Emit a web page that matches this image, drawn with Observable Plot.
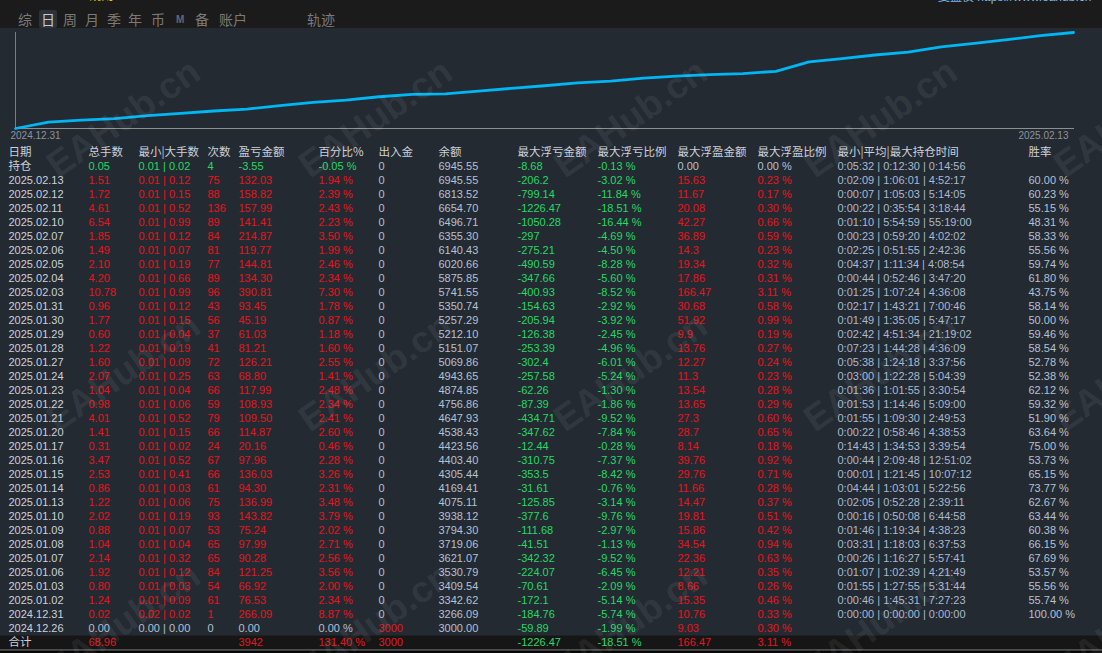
<!DOCTYPE html>
<html><head><meta charset="utf-8">
<script src="https://cdn.jsdelivr.net/npm/d3@7"></script>
<script src="https://cdn.jsdelivr.net/npm/@observablehq/plot@0.6"></script>
<style>
html,body{margin:0;padding:0;background:#242a32;width:1102px;height:653px;overflow:hidden;font-family:"Liberation Sans","Noto Sans CJK SC",sans-serif;}
#topbar{position:absolute;left:0;top:0;width:1102px;height:28px;background:#1b1b1b;overflow:hidden;}
.tab{position:absolute;top:10px;font-size:14px;line-height:18px;color:#7a7a7a;font-family:"Noto Sans CJK SC",sans-serif;}
.tab.sel{color:#c3cad4;background:#2b323b;border-radius:2px;padding:0 2px;margin-left:-2px;}
.tab.m{font-size:10px;font-weight:bold;color:#5f6a78;font-family:"Liberation Sans",sans-serif;top:11px;}
#ytext{position:absolute;left:8px;top:-11px;font-size:12px;line-height:14px;color:#e3cf00;white-space:nowrap;}
#rtext{position:absolute;left:938px;top:-10px;font-size:12px;line-height:14px;color:#7fb6e6;white-space:nowrap;}
#chart{position:absolute;left:0;top:28px;}
#table{position:absolute;left:0;top:143px;}
#bottom{position:absolute;left:0;top:650px;width:1102px;height:3px;background:#050505;}
#wm{position:absolute;left:0;top:0;pointer-events:none;}
svg{display:block;}
</style></head><body>
<div id="topbar"><span id="ytext">www.eahub.cn 规则</span><span id="rtext">复盘仪 https://www.eahub.cn</span></div>
<div id="bottom"></div>
<div id="chart"></div>
<div id="table"></div>
<div id="wm"></div>
<script>
// ---------- data ----------
const dates = ["2025.02.13","2025.02.12","2025.02.11","2025.02.10","2025.02.07","2025.02.06","2025.02.05","2025.02.04","2025.02.03","2025.01.31","2025.01.30","2025.01.29","2025.01.28","2025.01.27","2025.01.24","2025.01.23","2025.01.22","2025.01.21","2025.01.20","2025.01.17","2025.01.16","2025.01.15","2025.01.14","2025.01.13","2025.01.10","2025.01.09","2025.01.08","2025.01.07","2025.01.06","2025.01.03","2025.01.02","2024.12.31","2024.12.26"];
const lots = [1.51,1.72,4.61,6.54,1.85,1.49,2.10,4.20,10.78,0.96,1.77,0.60,1.22,1.60,2.07,1.04,0.98,4.01,1.41,0.31,3.47,2.53,0.86,1.22,2.02,0.88,1.04,2.14,1.92,0.80,1.24,0.02,0.00];
const lotMin = [0.01,0.01,0.01,0.01,0.01,0.01,0.01,0.01,0.01,0.01,0.01,0.01,0.01,0.01,0.01,0.01,0.01,0.01,0.01,0.01,0.01,0.01,0.01,0.01,0.01,0.01,0.01,0.01,0.01,0.01,0.01,0.02,0.00];
const lotMax = [0.12,0.15,0.52,0.99,0.12,0.07,0.19,0.66,0.99,0.12,0.15,0.04,0.19,0.09,0.25,0.04,0.06,0.52,0.15,0.02,0.52,0.41,0.03,0.06,0.19,0.07,0.04,0.32,0.12,0.03,0.09,0.02,0.00];
const trades = [75,88,136,89,84,81,77,89,96,43,56,37,41,72,63,66,59,79,66,24,67,66,61,75,93,53,65,65,84,54,61,1,0];
const pnl = [132.03,158.82,157.99,141.41,214.87,119.77,144.81,134.30,390.81,93.45,45.19,61.03,81.21,126.21,68.80,117.99,108.93,109.50,114.87,20.16,97.96,136.03,94.30,136.99,143.82,75.24,97.99,90.28,121.25,66.92,76.53,266.09,0.00];
const pnlPct = [1.94,2.39,2.43,2.23,3.50,1.99,2.46,2.34,7.30,1.78,0.87,1.18,1.60,2.55,1.41,2.48,2.34,2.41,2.60,0.46,2.28,3.26,2.31,3.48,3.79,2.02,2.71,2.56,3.56,2.00,2.34,8.87,0.00];
const flows = [0,0,0,0,0,0,0,0,0,0,0,0,0,0,0,0,0,0,0,0,0,0,0,0,0,0,0,0,0,0,0,0,3000];
const balance = [6945.55,6813.52,6654.70,6496.71,6355.30,6140.43,6020.66,5875.85,5741.55,5350.74,5257.29,5212.10,5151.07,5069.86,4943.65,4874.85,4756.86,4647.93,4538.43,4423.56,4403.40,4305.44,4169.41,4075.11,3938.12,3794.30,3719.06,3621.07,3530.79,3409.54,3342.62,3266.09,3000.00];
const ddAmt = [-206.2,-799.14,-1226.47,-1050.28,-297,-275.21,-490.59,-347.66,-400.93,-154.63,-205.94,-126.38,-253.39,-302.4,-257.58,-62.26,-87.39,-434.71,-347.62,-12.44,-310.75,-353.5,-31.61,-125.85,-377.6,-111.68,-41.51,-342.32,-224.07,-70.61,-172.1,-184.76,-59.89];
const ddPct = [-3.02,-11.84,-18.51,-16.44,-4.69,-4.50,-8.28,-5.60,-8.52,-2.92,-3.92,-2.45,-4.96,-6.01,-5.24,-1.30,-1.86,-9.52,-7.84,-0.28,-7.37,-8.42,-0.76,-3.14,-9.76,-2.97,-1.13,-9.52,-6.45,-2.09,-5.14,-5.74,-1.99];
const fpAmt = [15.63,11.67,20.08,42.27,36.89,14.3,19.34,17.86,166.47,30.68,51.92,9.9,13.76,12.27,11.3,13.54,13.65,27.3,28.7,8.14,39.76,29.76,11.66,14.47,19.81,15.86,34.54,22.36,12.21,8.66,15.35,10.76,9.03];
const fpPct = [0.23,0.17,0.30,0.66,0.59,0.23,0.32,0.31,3.11,0.58,0.99,0.19,0.27,0.24,0.23,0.28,0.29,0.60,0.65,0.18,0.92,0.71,0.28,0.37,0.51,0.42,0.94,0.63,0.35,0.26,0.46,0.33,0.30];
const holdMin = ["0:02:09","0:00:07","0:00:22","0:01:10","0:00:23","0:02:25","0:04:37","0:00:44","0:01:25","0:02:17","0:01:49","0:02:42","0:07:23","0:05:38","0:03:00","0:01:36","0:01:53","0:01:55","0:00:22","0:14:43","0:00:44","0:00:01","0:04:44","0:02:05","0:00:16","0:01:46","0:03:31","0:00:26","0:01:07","0:01:55","0:00:46","0:00:00",""];
const holdAvg = ["1:06:01","1:05:03","0:35:54","5:54:59","0:59:20","0:51:55","1:11:34","0:52:46","1:07:24","1:43:21","1:35:05","4:51:34","1:44:28","1:24:18","1:22:28","1:01:55","1:14:46","1:09:30","0:58:46","1:34:53","2:09:48","1:21:45","1:03:01","0:52:28","0:50:08","1:19:34","1:18:03","1:16:27","1:02:39","1:27:55","1:45:31","0:00:00",""];
const holdMax = ["4:52:17","5:14:05","3:18:44","55:19:00","4:02:02","2:42:36","4:08:54","3:47:20","4:36:08","7:00:46","5:47:17","21:19:02","4:36:09","3:37:56","5:04:39","3:30:54","5:09:00","2:49:53","4:38:53","3:39:54","12:51:02","10:07:12","5:22:56","2:39:11","6:44:58","4:38:23","6:37:53","5:57:41","4:21:49","5:31:44","7:27:23","0:00:00",""];
const winRate = [60.00,60.23,55.15,48.31,58.33,55.56,59.74,61.80,43.75,58.14,50.00,59.46,58.54,52.78,52.38,62.12,59.32,51.90,63.64,75.00,53.73,65.15,73.77,62.67,63.44,60.38,66.15,67.69,53.57,55.56,55.74,100.00,null];

// open positions row (持仓)
const openLots = 0.05, openLotMin = 0.01, openLotMax = 0.02, openTrades = 4, openPnl = -3.55, openPct = -0.05;
const openFlow = 0, openBalance = 6945.55, openDdAmt = -8.68, openDdPct = -0.13, openFpAmt = 0, openFpPct = 0;
const openHold = ["0:05:32","0:12:30","0:14:56"];
// totals row (合计)
const totalLots = 68.96, totalPnl = 3942, totalPct = 131.40, totalFlow = 3000;
const totalDdAmt = -1226.47, totalDdPct = -18.51, totalFpAmt = 166.47, totalFpPct = 3.11;

const cols = ["date","lots","minmax","count","pnl","pct","flow","bal","ddAmt","ddPct","fpAmt","fpPct","times","win"];
const headers = ["日期","总手数","最小|大手数","次数","盈亏金额","百分比%","出入金","余额","最大浮亏金额","最大浮亏比例","最大浮盈金额","最大浮盈比例","最小|平均|最大持仓时间","胜率"];
const curveTicks = ["2024.12.31","2025.02.13"];
const tabs = ["综","日","周","月","季","年","币","M","备","账户","轨迹"];

// ---------- layout / style ----------
const colLeft = [8,88,138,207,238,318,378,438,517,597,677,757,837,1028];
const tabLeft = [18,41,63,85,107,128,151,176,195,219,307];
const RED = "#e5161c", GREEN = "#24d865", LIGHT = "#b4c1d4", DATEC = "#cbd1da", TIMEC = "#aab9d0";
const FONT = '"Liberation Sans","Noto Sans CJK SC",sans-serif';

// tabs
const tb = document.getElementById("topbar");
tabs.forEach((t, i) => {
  const s = document.createElement("span");
  s.className = "tab" + (t === "日" ? " sel" : "") + (t === "M" ? " m" : "");
  s.textContent = t;
  s.style.left = tabLeft[i] + "px";
  tb.appendChild(s);
});

// ---------- equity curve ----------
const curve = balance.slice().reverse().map((v, i) => ({i, v}));
const tickFont = '"Liberation Sans Narrow","Liberation Sans",sans-serif';
const chart = Plot.plot({
  width: 1102, height: 115,
  marginLeft: 15, marginRight: 29, marginTop: 4, marginBottom: 15,
  style: {background: "transparent", overflow: "visible", fontFamily: FONT},
  x: {domain: [0, curve.length - 1], axis: null},
  y: {domain: [d3.min(balance), d3.max(balance)], axis: null},
  marks: [
    Plot.frame({anchor: "left", stroke: "#7c7c7c"}),
    Plot.frame({anchor: "bottom", stroke: "#8e8e8e"}),
    Plot.line(curve, {x: "i", y: "v", stroke: "#00b6f4", strokeWidth: 2.8}),
    Plot.text([curveTicks[0]], {x: () => 0, frameAnchor: "bottom", lineAnchor: "middle", text: d => d, textAnchor: "start", dx: -5, dy: 7, fill: "#8c939c", fontSize: 10, fontFamily: tickFont}),
    Plot.text([curveTicks[1]], {x: () => curve.length - 1, frameAnchor: "bottom", lineAnchor: "middle", text: d => d, textAnchor: "end", dx: -5, dy: 7, fill: "#8c939c", fontSize: 10, fontFamily: tickFont})
  ]
});
document.getElementById("chart").appendChild(chart);

// ---------- table ----------
const signColor = v => v > 0 ? RED : v < 0 ? GREEN : LIGHT;
const f2 = v => v.toFixed(2);
const pctf = v => v.toFixed(2) + " %";
const amt = v => v === 0 ? "0.00" : String(v);
const cells = [];
const add = (row, col, text, fill, big = false) => {
  if (text === "" || text == null) return;
  cells.push({row, x: colLeft[cols.indexOf(col)], text, fill, big});
};

headers.forEach((h, j) => add("hdr", cols[j], h, DATEC, true));

add("open", "date", "持仓", DATEC, true);
{
  const c = signColor(openPnl);
  add("open", "lots", f2(openLots), c);
  add("open", "minmax", f2(openLotMin) + " | " + f2(openLotMax), c);
  add("open", "count", String(openTrades), c);
  add("open", "pnl", f2(openPnl), c);
  add("open", "pct", pctf(openPct), c);
  add("open", "flow", String(openFlow), signColor(openFlow));
  add("open", "bal", f2(openBalance), LIGHT);
  add("open", "ddAmt", amt(openDdAmt), signColor(openDdAmt));
  add("open", "ddPct", pctf(openDdPct), signColor(openDdPct));
  add("open", "fpAmt", amt(openFpAmt), signColor(openFpAmt));
  add("open", "fpPct", pctf(openFpPct), signColor(openFpPct));
  add("open", "times", openHold.join(" | "), TIMEC);
}

dates.forEach((d, i) => {
  const c = signColor(pnl[i]);
  add(d, "date", d, DATEC);
  add(d, "lots", f2(lots[i]), c);
  add(d, "minmax", f2(lotMin[i]) + " | " + f2(lotMax[i]), c);
  add(d, "count", String(trades[i]), c);
  add(d, "pnl", f2(pnl[i]), c);
  add(d, "pct", pctf(pnlPct[i]), c);
  add(d, "flow", String(flows[i]), signColor(flows[i]));
  add(d, "bal", f2(balance[i]), LIGHT);
  add(d, "ddAmt", amt(ddAmt[i]), signColor(ddAmt[i]));
  add(d, "ddPct", pctf(ddPct[i]), signColor(ddPct[i]));
  add(d, "fpAmt", amt(fpAmt[i]), signColor(fpAmt[i]));
  add(d, "fpPct", pctf(fpPct[i]), signColor(fpPct[i]));
  if (holdMin[i]) add(d, "times", [holdMin[i], holdAvg[i], holdMax[i]].join(" | "), TIMEC);
  if (winRate[i] != null) add(d, "win", pctf(winRate[i]), LIGHT);
});

add("total", "date", "合计", DATEC, true);
add("total", "lots", f2(totalLots), signColor(totalLots));
add("total", "pnl", String(totalPnl), signColor(totalPnl));
add("total", "pct", pctf(totalPct), signColor(totalPct));
add("total", "flow", String(totalFlow), signColor(totalFlow));
add("total", "ddAmt", amt(totalDdAmt), signColor(totalDdAmt));
add("total", "ddPct", pctf(totalDdPct), signColor(totalDdPct));
add("total", "fpAmt", amt(totalFpAmt), signColor(totalFpAmt));
add("total", "fpPct", pctf(totalFpPct), signColor(totalFpPct));

const rowIds = ["hdr", "open", ...dates, "total"];
const table = Plot.plot({
  width: 1102, height: 510, margin: 0,
  style: {background: "transparent", overflow: "visible", fontFamily: FONT},
  x: {domain: [0, 1102], range: [0, 1102], axis: null},
  y: {type: "point", domain: rowIds, range: [9, 499], padding: 0, axis: null},
  color: {type: "identity"},
  marks: [
    Plot.ruleY(["total"], {y: d => d, stroke: "#161616", strokeWidth: 14}),
    Plot.ruleY(["total"], {y: d => d, stroke: "#7a7a7a", strokeWidth: 1, dy: 7.5}),
    Plot.text(cells.filter(d => !d.big), {x: "x", y: "row", text: "text", fill: "fill", textAnchor: "start", fontSize: 11}),
    Plot.text(cells.filter(d => d.big), {x: "x", y: "row", text: "text", fill: "fill", textAnchor: "start", fontSize: 11.5, fontFamily: '"Noto Sans CJK SC","Liberation Sans",sans-serif'})
  ]
});
document.getElementById("table").appendChild(table);

// ---------- watermark ----------
const wmX = [123, 375, 630, 880, 1130], wmY = [118, 372, 622];
const wmPts = wmY.flatMap(y => wmX.map(x => ({x, y})));
const wm = Plot.plot({
  width: 1102, height: 653, margin: 0,
  style: {background: "transparent"},
  x: {domain: [0, 1102], range: [0, 1102], axis: null},
  y: {domain: [0, 653], range: [0, 653], axis: null},
  marks: [
    Plot.text(wmPts, {x: "x", y: "y", text: () => "EAHub.cn", rotate: -35, fontSize: 37, fontWeight: "bold", fill: "#ffffff", fillOpacity: 0.08, fontFamily: '"Liberation Sans",sans-serif'})
  ]
});
document.getElementById("wm").appendChild(wm);
</script>
</body></html>
